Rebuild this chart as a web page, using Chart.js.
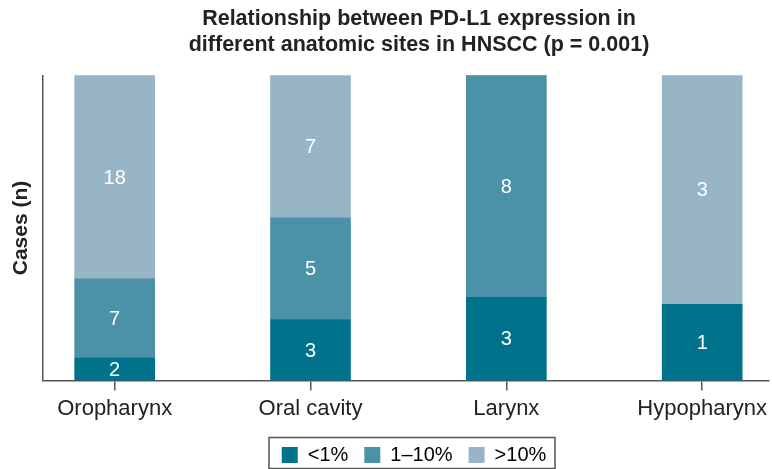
<!DOCTYPE html>
<html>
<head>
<meta charset="utf-8">
<script src="https://cdn.jsdelivr.net/npm/chart.js@4.4.1/dist/chart.umd.min.js"></script>
<style>
  html, body { margin: 0; padding: 0; background: #fff; }
  #wrap { width: 772px; height: 469px; position: relative; }
</style>
</head>
<body>
<div id="wrap"><canvas id="c" width="772" height="469"></canvas></div>
<script>
const categories = ["Oropharynx", "Oral cavity", "Larynx", "Hypopharynx"];
const seriesNames = ["<1%", "1\u201310%", ">10%"];
const lowCounts = [2, 3, 3, 1];
const midCounts = [7, 5, 8, 0];
const highCounts = [18, 7, 0, 3];
const seriesColors = ["#00728B", "#4B91A7", "#97B5C5"];
const titleLines = ["Relationship between PD-L1 expression in", "different anatomic sites in HNSCC (p = 0.001)"];
const yTitle = "Cases (n)";

const seriesCounts = [lowCounts, midCounts, highCounts];
const totals = categories.map((c, i) => lowCounts[i] + midCounts[i] + highCounts[i]);

const datasets = seriesNames.map((name, s) => ({
  label: name,
  counts: seriesCounts[s],
  data: categories.map((c, i) => ({ x: i, y: seriesCounts[s][i] / totals[i] * 100 })),
  backgroundColor: seriesColors[s],
  borderWidth: 0,
  barThickness: 80
}));

const FONT = "'Liberation Sans', Arial, Helvetica, sans-serif";

const valueLabels = {
  id: 'valueLabels',
  afterDatasetsDraw(chart) {
    const ctx = chart.ctx;
    ctx.save();
    ctx.fillStyle = '#ffffff';
    ctx.font = "20px " + FONT;
    ctx.textAlign = 'center';
    ctx.textBaseline = 'middle';
    chart.data.datasets.forEach((ds, di) => {
      const meta = chart.getDatasetMeta(di);
      meta.data.forEach((bar, i) => {
        const v = ds.counts[i];
        if (!v) return;
        ctx.fillText(String(v), bar.x, (bar.y + bar.base) / 2 + 1);
      });
    });
    ctx.restore();
  }
};

const shiftBoxes = {
  id: 'shiftBoxes',
  afterLayout(chart) {
    if (chart.titleBlock) { chart.titleBlock.left += 66; chart.titleBlock.top += 1; }
    if (chart.legend) {
      chart.legend.left += 56;
      chart.legend.top += 2;
      chart.legend.bottom += 2;
    }
  },
  afterDraw(chart) {
    const lg = chart.legend;
    if (!lg) return;
    const ctx = chart.ctx;
    ctx.save();
    ctx.strokeStyle = '#555';
    ctx.lineWidth = 1.5;
    const w = 286;
    const cx = (lg.left + lg.right) / 2 - 2;
    ctx.strokeRect(cx - w / 2, 437.5, w, 31);
    ctx.restore();
  }
};

new Chart(document.getElementById('c'), {
  type: 'bar',
  data: { datasets },
  options: {
    responsive: false,
    animation: false,
    devicePixelRatio: 1,
    layout: { padding: { left: 0, right: 0, top: 0, bottom: -4 } },
    plugins: {
      title: {
        display: true,
        text: titleLines,
        color: '#222',
        font: { family: FONT, size: 21.5, weight: 'bold', lineHeight: 1.17 },
        padding: { top: 6, bottom: 19 }
      },
      legend: {
        display: true,
        position: 'bottom',
        labels: {
          color: '#222',
          font: { family: FONT, size: 20 },
          boxWidth: 16,
          boxHeight: 16,
          padding: 16,
          generateLabels(chart) {
            return chart.data.datasets.map((ds, i) => ({
              text: ds.label,
              fillStyle: ds.backgroundColor,
              strokeStyle: ds.backgroundColor,
              lineWidth: 0,
              datasetIndex: i
            }));
          }
        }
      },
      tooltip: { enabled: false }
    },
    scales: {
      x: {
        type: 'linear',
        stacked: true,
        offset: false,
        min: -0.366,
        max: 3.341,
        afterBuildTicks(scale) { scale.ticks = categories.map((c, i) => ({ value: i })); },
        ticks: {
          color: '#222',
          font: { family: FONT, size: 22 },
          padding: 5,
          maxRotation: 0,
          autoSkip: false,
          callback: (v) => categories[v]
        },
        grid: { display: true, offset: false, drawOnChartArea: false, drawTicks: true, tickLength: 10, color: '#555', lineWidth: 1.5 },
        border: { display: true, color: '#555', width: 1.5 }
      },
      y: {
        stacked: true,
        min: 0,
        max: 100,
        ticks: { display: false },
        grid: { display: false },
        border: { display: true, color: '#555', width: 1.5 },
        title: {
          display: true,
          text: yTitle,
          color: '#222',
          font: { family: FONT, size: 21, weight: 'bold' },
          padding: { top: 9, bottom: 0 }
        },
        afterFit(scale) { scale.width = 43; }
      }
    }
  },
  plugins: [valueLabels, shiftBoxes]
});
</script>
</body>
</html>
